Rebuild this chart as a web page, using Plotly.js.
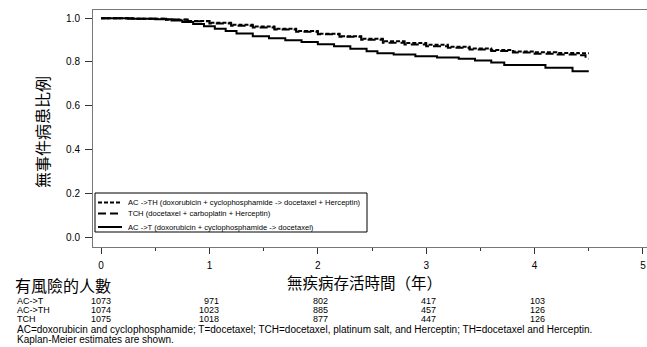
<!DOCTYPE html>
<html>
<head>
<meta charset="utf-8">
<script src="https://cdn.plot.ly/plotly-3.0.1.min.js"></script>
<style>html,body{margin:0;padding:0;background:#fff;}#chart{width:647px;height:347px;}</style>
</head>
<body>
<div id="chart"></div>
<script>
// ---- Data ----
const seriesNames = ["AC ->TH (doxorubicin + cyclophosphamide -> docetaxel + Herceptin)",
                     "TCH (docetaxel + carboplatin + Herceptin)",
                     "AC ->T (doxorubicin + cyclophosphamide -> docetaxel)"];

const timeACTH = [0, 0.3, 0.6, 0.8, 1.0, 1.2, 1.4, 1.6, 1.8, 2.0, 2.2, 2.4, 2.6, 2.8, 3.0, 3.2, 3.4, 3.6, 3.8, 4.0, 4.2, 4.4, 4.5];
const survACTH = [1.0, 0.998, 0.993, 0.987, 0.979, 0.97, 0.962, 0.952, 0.941, 0.929, 0.918, 0.906, 0.895, 0.887, 0.879, 0.87, 0.862, 0.855, 0.848, 0.844, 0.841, 0.84, 0.84];

const timeTCH = [0, 0.3, 0.6, 0.8, 1.0, 1.2, 1.4, 1.6, 1.8, 2.0, 2.2, 2.4, 2.6, 2.8, 3.0, 3.2, 3.4, 3.6, 3.8, 4.0, 4.2, 4.4, 4.47, 4.5];
const survTCH = [1.0, 0.998, 0.994, 0.986, 0.976, 0.966, 0.957, 0.948, 0.938, 0.927, 0.915, 0.902, 0.888, 0.88, 0.872, 0.865, 0.857, 0.85, 0.843, 0.838, 0.834, 0.831, 0.815, 0.815];

const timeACT = [0, 0.25, 0.5, 0.65, 0.75, 0.85, 0.95, 1.05, 1.15, 1.25, 1.4, 1.55, 1.7, 1.85, 2.0, 2.15, 2.3, 2.45, 2.55, 2.7, 2.9, 3.1, 3.3, 3.45, 3.6, 3.72, 4.1, 4.35, 4.5];
const survACT = [1.0, 0.998, 0.995, 0.99, 0.983, 0.974, 0.963, 0.952, 0.941, 0.93, 0.917, 0.908, 0.899, 0.891, 0.881, 0.872, 0.86, 0.849, 0.84, 0.834, 0.826, 0.82, 0.815, 0.807, 0.797, 0.786, 0.773, 0.757, 0.757];

const xTickVals = [0, 1, 2, 3, 4, 5];
const xTickText = ["0", "1", "2", "3", "4", "5"];
const yTickVals = [0, 0.2, 0.4, 0.6, 0.8, 1.0];
const yTickText = ["0.0", "0.2", "0.4", "0.6", "0.8", "1.0"];

const riskTimes = [0, 1, 2, 3, 4];
const riskLabels = ["AC->T", "AC->TH", "TCH"];
const riskACT  = [1073, 971, 802, 417, 103];
const riskACTH = [1074, 1023, 885, 457, 126];
const riskTCH  = [1075, 1018, 877, 447, 126];

const yTitle = "無事件病患比例";
const xTitle = "無疾病存活時間（年）";
const riskTitle = "有風險的人數";
const footnote1 = "AC=doxorubicin and cyclophosphamide; T=docetaxel; TCH=docetaxel, platinum salt, and Herceptin; TH=docetaxel and Herceptin.";
const footnote2 = "Kaplan-Meier estimates are shown.";

// ---- Styles ----
const FONT = "Liberation Sans, Arial, sans-serif";
const CJK = "Noto Sans CJK TC, Noto Sans CJK SC, sans-serif";
const dashes = ["4px,2px", "8px,4px", "solid"];

const traces = [
  {x: timeACTH, y: survACTH, name: seriesNames[0], mode: "lines", line: {shape: "hv", color: "#000", width: 2, dash: dashes[0]}},
  {x: timeTCH, y: survTCH, name: seriesNames[1], mode: "lines", line: {shape: "hv", color: "#000", width: 2, dash: dashes[1]}},
  {x: timeACT, y: survACT, name: seriesNames[2], mode: "lines", line: {shape: "hv", color: "#000", width: 2, dash: dashes[2]}}
];

// pixel -> paper helpers (plot area: x 93..647, y 10..247)
const L = 93, W = 554, T = 10, H = 237;
const px = v => (v - L) / W;
const py = v => (T + H - v) / H;

const shapes = [];
const annotations = [];

// Manual legend box
shapes.push({type: "rect", xref: "paper", yref: "paper", x0: px(95), x1: px(367), y0: py(232), y1: py(193),
             line: {color: "#000", width: 1}, fillcolor: "rgba(255,255,255,0)"});
const legRows = [202.5, 213.5, 227];
for (let i = 0; i < 3; i++) {
  shapes.push({type: "line", xref: "paper", yref: "paper", x0: px(98), x1: px(122), y0: py(legRows[i]), y1: py(legRows[i]),
               line: {color: "#000", width: 2, dash: dashes[i]}});
  annotations.push({xref: "paper", yref: "paper", x: px(126), y: py(legRows[i]), xanchor: "left", yanchor: "middle",
                    text: seriesNames[i], showarrow: false, font: {family: FONT, size: 7.6, color: "#000"}});
}

// Axis titles
annotations.push({xref: "paper", yref: "paper", x: px(42), y: py(132), xanchor: "center", yanchor: "middle", textangle: -90,
                  text: yTitle, showarrow: false, font: {family: CJK, size: 16, color: "#000"}});
annotations.push({xref: "paper", yref: "paper", x: px(364), y: py(282), xanchor: "center", yanchor: "middle",
                  text: xTitle, showarrow: false, font: {family: CJK, size: 15.5, color: "#000"}});

// Risk table
annotations.push({xref: "paper", yref: "paper", x: px(13), y: py(285), xanchor: "left", yanchor: "middle",
                  text: riskTitle, showarrow: false, font: {family: CJK, size: 16, color: "#000"}});
const riskRowsY = [301, 310.2, 319.4];
const riskData = [riskACT, riskACTH, riskTCH];
for (let r = 0; r < 3; r++) {
  annotations.push({xref: "paper", yref: "paper", x: px(15), y: py(riskRowsY[r]), xanchor: "left", yanchor: "middle",
                    text: riskLabels[r], showarrow: false, font: {family: FONT, size: 9, color: "#000"}});
  for (let c = 0; c < riskTimes.length; c++) {
    annotations.push({xref: "x", yref: "paper", x: riskTimes[c], xshift: 12, y: py(riskRowsY[r]), xanchor: "right", yanchor: "middle",
                      text: String(riskData[r][c]), showarrow: false, font: {family: FONT, size: 9, color: "#000"}});
  }
}
annotations.push({xref: "paper", yref: "paper", x: px(15), y: py(329.5), xanchor: "left", yanchor: "middle",
                  text: footnote1, showarrow: false, font: {family: FONT, size: 10, color: "#000"}});
annotations.push({xref: "paper", yref: "paper", x: px(15), y: py(339.5), xanchor: "left", yanchor: "middle",
                  text: footnote2, showarrow: false, font: {family: FONT, size: 10, color: "#000"}});

const layout = {
  width: 647, height: 347,
  margin: {l: L, r: 0, t: T, b: 347 - T - H},
  paper_bgcolor: "#fff", plot_bgcolor: "#fff",
  showlegend: false,
  font: {family: FONT, color: "#000"},
  xaxis: {
    range: [-0.074, 5.037], tickvals: xTickVals, ticktext: xTickText,
    ticks: "outside", ticklen: 6, tickwidth: 1, tickcolor: "#333",
    minor: {tick0: 0, dtick: 0.5, ticks: "outside", ticklen: 3, tickcolor: "#333", showgrid: false},
    showline: true, linecolor: "#777", linewidth: 1, mirror: true,
    showgrid: false, zeroline: false, ticklabelstandoff: 3,
    tickfont: {family: FONT, size: 10, color: "#000"}
  },
  yaxis: {
    range: [-0.0457, 1.0375], tickvals: yTickVals, ticktext: yTickText,
    ticks: "outside", ticklen: 7, tickwidth: 1, tickcolor: "#333",
    showline: true, linecolor: "#777", linewidth: 1,
    showgrid: false, zeroline: false, ticklabelstandoff: 3,
    tickfont: {family: FONT, size: 10, color: "#000"}
  },
  shapes: shapes,
  annotations: annotations
};

Plotly.newPlot("chart", traces, layout, {displayModeBar: false, staticPlot: true});
</script>
</body>
</html>
